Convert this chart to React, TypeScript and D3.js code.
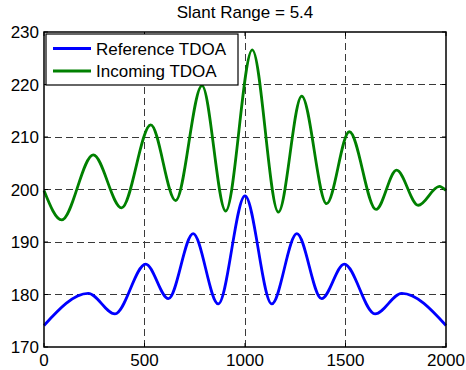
import React, { useRef, useEffect } from 'react';
import * as d3 from 'd3';

const refX = [0, 220, 353, 506, 619, 742, 867, 1000, 1133, 1258, 1381, 1494, 1647, 1780, 2000];
const refY = [174.1, 180.2, 176.3, 185.8, 179.2, 191.6, 178.2, 198.8, 178.2, 191.6, 179.2, 185.8, 176.3, 180.2, 174.1];

const incX = [0, 88, 245, 386, 531, 655, 786, 904, 1036, 1166, 1282, 1406, 1519, 1652, 1754, 1862, 1967, 2000];
const incY = [199.8, 194.2, 206.6, 196.5, 212.3, 197.9, 219.8, 195.9, 226.6, 195.7, 217.8, 197.3, 211.0, 196.2, 203.7, 197.0, 200.6, 199.8];

const xTicks = [0, 500, 1000, 1500, 2000];
const yTicks = [170, 180, 190, 200, 210, 220, 230];
const seriesNames = ['Reference TDOA', 'Incoming TDOA'];
const seriesColors = ['#0000ff', '#008000'];
const title = 'Slant Range = 5.4';

const W = 466;
const H = 370;
const font = 'Arial, "Liberation Sans", Helvetica, sans-serif';

const App: React.FC = () => {
    const svgRef = useRef<SVGSVGElement | null>(null);

    useEffect(() => {
        const svg = d3.select(svgRef.current);
        svg.selectAll('*').remove();

        const margin = { top: 32, right: 20, bottom: 23, left: 44 };
        const width = W - margin.left - margin.right;
        const height = H - margin.top - margin.bottom;

        const x = d3.scaleLinear().domain([0, 2000]).range([margin.left, margin.left + width]);
        const y = d3.scaleLinear().domain([170, 230]).range([margin.top + height, margin.top]);

        svg.append('rect').attr('width', W).attr('height', H).attr('fill', '#fff');

        // grid
        const grid = svg.append('g')
            .attr('stroke', '#3a3a3a')
            .attr('stroke-width', 1)
            .attr('stroke-dasharray', '7,4')
            .attr('shape-rendering', 'crispEdges');
        xTicks.slice(1, -1).forEach(t => {
            grid.append('line')
                .attr('x1', x(t)).attr('x2', x(t))
                .attr('y1', y(230)).attr('y2', y(170));
        });
        yTicks.slice(1, -1).forEach(t => {
            grid.append('line')
                .attr('x1', x(0)).attr('x2', x(2000))
                .attr('y1', y(t)).attr('y2', y(t));
        });

        // tick marks (inside, all four sides)
        const tl = 4;
        const ticks = svg.append('g').attr('stroke', '#000').attr('stroke-width', 1);
        xTicks.forEach(t => {
            ticks.append('line').attr('x1', x(t)).attr('x2', x(t)).attr('y1', y(170)).attr('y2', y(170) - tl);
            ticks.append('line').attr('x1', x(t)).attr('x2', x(t)).attr('y1', y(230)).attr('y2', y(230) + tl);
        });
        yTicks.forEach(t => {
            ticks.append('line').attr('x1', x(0)).attr('x2', x(0) + tl).attr('y1', y(t)).attr('y2', y(t));
            ticks.append('line').attr('x1', x(2000)).attr('x2', x(2000) - tl).attr('y1', y(t)).attr('y2', y(t));
        });

        // curves
        const line = d3.line<[number, number]>()
            .x(d => x(d[0]))
            .y(d => y(d[1]))
            .curve(d3.curveMonotoneX);

        const series: [number, number][][] = [
            refX.map((v, i) => [v, refY[i]]),
            incX.map((v, i) => [v, incY[i]]),
        ];
        series.forEach((s, i) => {
            svg.append('path')
                .attr('d', line(s) as string)
                .attr('fill', 'none')
                .attr('stroke', seriesColors[i])
                .attr('stroke-width', 2.8)
                .attr('stroke-linejoin', 'round');
        });

        // box
        svg.append('rect')
            .attr('x', x(0)).attr('y', y(230))
            .attr('width', x(2000) - x(0)).attr('height', y(170) - y(230))
            .attr('fill', 'none')
            .attr('stroke', '#000')
            .attr('stroke-width', 1.5);

        // tick labels
        const labels = svg.append('g')
            .attr('font-family', font)
            .attr('font-size', 17)
            .attr('fill', '#000');
        xTicks.forEach(t => {
            labels.append('text')
                .attr('x', x(t)).attr('y', 366)
                .attr('text-anchor', 'middle')
                .text(t);
        });
        yTicks.forEach(t => {
            labels.append('text')
                .attr('x', 39).attr('y', y(t) + 6)
                .attr('text-anchor', 'end')
                .text(t);
        });

        // title
        svg.append('text')
            .attr('x', (x(0) + x(2000)) / 2)
            .attr('y', 18)
            .attr('text-anchor', 'middle')
            .attr('font-family', font)
            .attr('font-size', 17)
            .text(title);

        // legend
        const lg = svg.append('g');
        lg.append('rect')
            .attr('x', 46).attr('y', 34)
            .attr('width', 192).attr('height', 51)
            .attr('fill', '#fff')
            .attr('stroke', '#000')
            .attr('stroke-width', 1.2);
        seriesNames.forEach((name, i) => {
            const ly = 48.5 + i * 22.5;
            lg.append('line')
                .attr('x1', 53).attr('x2', 91)
                .attr('y1', ly).attr('y2', ly)
                .attr('stroke', seriesColors[i])
                .attr('stroke-width', 2.8);
            lg.append('text')
                .attr('x', 96).attr('y', ly + 6)
                .attr('font-family', font)
                .attr('font-size', 17)
                .text(name);
        });
    }, []);

    return (
        <div style={{ position: 'fixed', left: 0, top: 0 }}>
            <svg ref={svgRef} width={W} height={H} style={{ display: 'block' }} />
        </div>
    );
};

export default App;
